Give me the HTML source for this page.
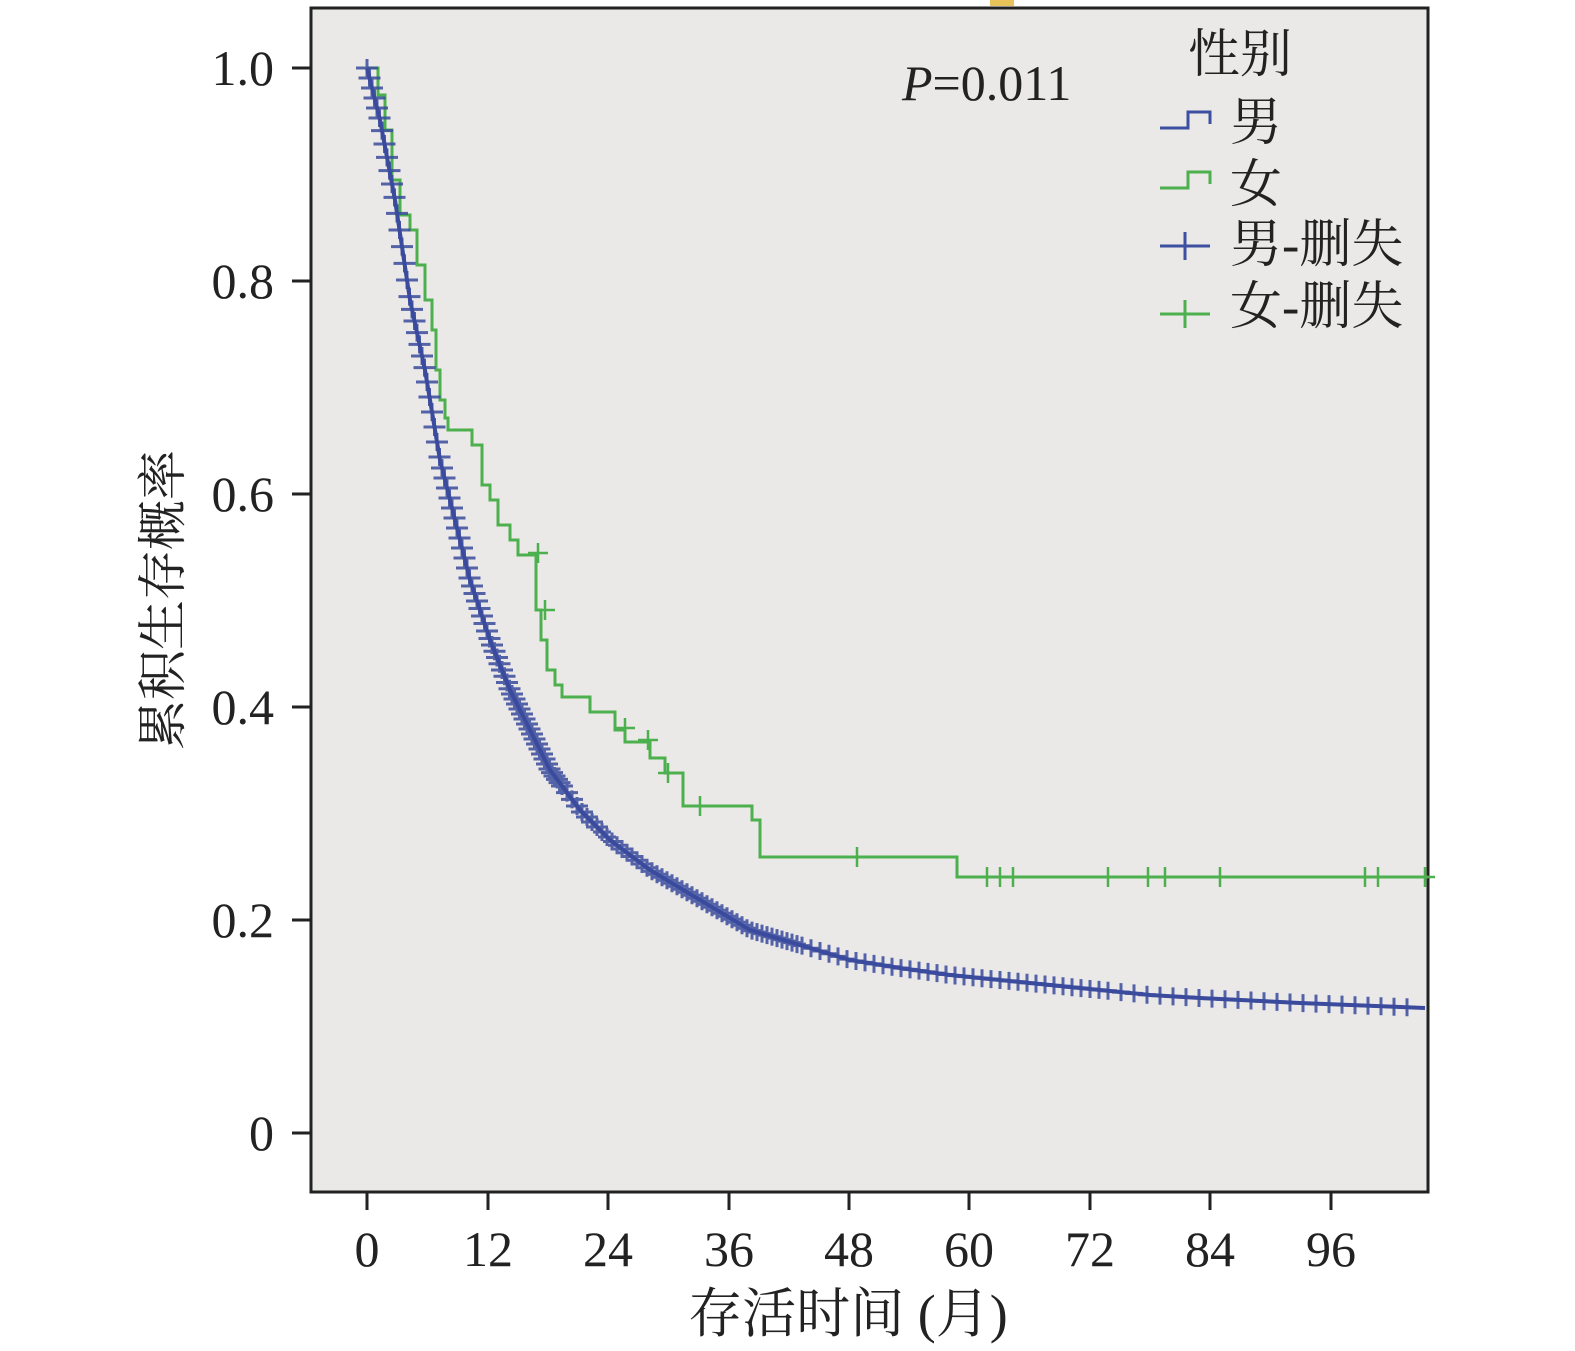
<!DOCTYPE html>
<html><head><meta charset="utf-8"><style>
body{margin:0;background:#fff;}
svg{display:block;font-family:"Liberation Serif","Noto Serif CJK SC",serif;}
</style></head><body>
<svg id="s" width="1575" height="1351" viewBox="0 0 1575 1351">
<rect x="0" y="0" width="1575" height="1351" fill="#fff"/>
<rect x="990" y="0" width="24" height="6" fill="#e8c35a"/>
<rect x="311" y="8" width="1117" height="1184" fill="#ebe9e7" stroke="#222" stroke-width="3"/>
<g stroke="#222" stroke-width="3">
<line x1="292" y1="68" x2="311" y2="68"/><line x1="292" y1="281" x2="311" y2="281"/>
<line x1="292" y1="494" x2="311" y2="494"/><line x1="292" y1="707" x2="311" y2="707"/>
<line x1="292" y1="920" x2="311" y2="920"/><line x1="292" y1="1133" x2="311" y2="1133"/>
<line x1="367" y1="1192" x2="367" y2="1210"/><line x1="488" y1="1192" x2="488" y2="1210"/>
<line x1="608" y1="1192" x2="608" y2="1210"/><line x1="729" y1="1192" x2="729" y2="1210"/>
<line x1="849" y1="1192" x2="849" y2="1210"/><line x1="969" y1="1192" x2="969" y2="1210"/>
<line x1="1090" y1="1192" x2="1090" y2="1210"/><line x1="1210" y1="1192" x2="1210" y2="1210"/>
<line x1="1331" y1="1192" x2="1331" y2="1210"/>
</g>
<g font-size="50" fill="#222" text-anchor="end">
<text x="274" y="85">1.0</text><text x="274" y="298">0.8</text><text x="274" y="511">0.6</text>
<text x="274" y="724">0.4</text><text x="274" y="937">0.2</text><text x="274" y="1150">0</text>
</g>
<g font-size="50" fill="#222" text-anchor="middle">
<text x="367" y="1266">0</text><text x="488" y="1266">12</text><text x="608" y="1266">24</text>
<text x="729" y="1266">36</text><text x="849" y="1266">48</text><text x="969" y="1266">60</text>
<text x="1090" y="1266">72</text><text x="1210" y="1266">84</text><text x="1331" y="1266">96</text>
<text x="848" y="1332" font-size="54">存活时间 (月)</text>
</g>
<text transform="translate(180,600) rotate(-90)" font-size="50" fill="#222" text-anchor="middle">累积生存概率</text>
<text x="902" y="100" font-size="50" fill="#222"><tspan font-style="italic">P</tspan>=0.011</text>
<g font-size="52" fill="#222">
<text x="1188" y="72">性别</text>
<text x="1230" y="140">男</text><text x="1230" y="202">女</text>
<text x="1230" y="262">男-删失</text><text x="1230" y="324">女-删失</text>
</g>
<g fill="none" stroke-width="3">
<path d="M1160 128H1188V112H1210V124" stroke="#3c4fa0"/>
<path d="M1160 188H1188V172H1210V184" stroke="#4cb04e"/>
<path d="M1160 246H1210M1185 232V260" stroke="#3c4fa0"/>
<path d="M1160 314H1210M1185 300V328" stroke="#4cb04e"/>
</g>
<path id="g" fill="none" stroke="#4cb04e" stroke-width="3" d="M367 68H378V95H385V130H392V180H400V215H410V230H417V265H425V300H432V330H436V370H440V400H445V418H448V430H472V445H482V485H490V500H498V525H510V540H518V555H536V610H541V640H547V670H555V685H562V697H590V712H615V730H625V742H650V758H665V773H683V806H752V820H760V857H957V877H1428"/>
<g id="gm" stroke="#4cb04e" stroke-width="2.5"></g>
<polyline id="b" fill="none" stroke="#3a4b9e" stroke-width="4" points="367,68 380,120 395,200 410,300 425,370 440,460 455,520 470,580 490,640 510,690 530,730 550,770 580,810 610,840 650,870 700,900 750,930 800,945 850,960 900,968 950,975 1000,980 1050,985 1100,990 1150,995 1200,998 1300,1003 1425,1008"/>
<g id="bm" stroke="#3a4b9e" stroke-width="3" opacity="0.85"></g>
</svg>
<script>
var ns="http://www.w3.org/2000/svg";
function plus(g,x,y,h,v){var p=document.createElementNS(ns,"path");p.setAttribute("d","M"+(x-h)+" "+y+"H"+(x+h)+"M"+x+" "+(y-v)+"V"+(y+v));g.appendChild(p);}
var gm=document.getElementById("gm");
[[538,553],[545,610],[625,728],[648,740],[668,773],[700,806],[857,857],[987,877],[1000,877],[1013,877],[1108,877],[1148,877],[1165,877],[1220,877],[1365,877],[1378,877],[1425,877]].forEach(function(p){plus(gm,p[0],p[1],10,10);});
var pts=document.getElementById("b").getAttribute("points").split(" ").map(function(s){return s.split(",").map(Number);});
var bm=document.getElementById("bm");
function yAt(x){for(var i=0;i<pts.length-1;i++){if(x>=pts[i][0]&&x<=pts[i+1][0]){var t=(x-pts[i][0])/(pts[i+1][0]-pts[i][0]);return pts[i][1]+t*(pts[i+1][1]-pts[i][1]);}}return pts[pts.length-1][1];}
for(var x=367;x<1420;){var y=yAt(x);plus(bm,x,y,x<600?11:9,9);x+= x<560?2.5:(x<800?5:(x<1100?9:13));}
</script>
</body></html>
